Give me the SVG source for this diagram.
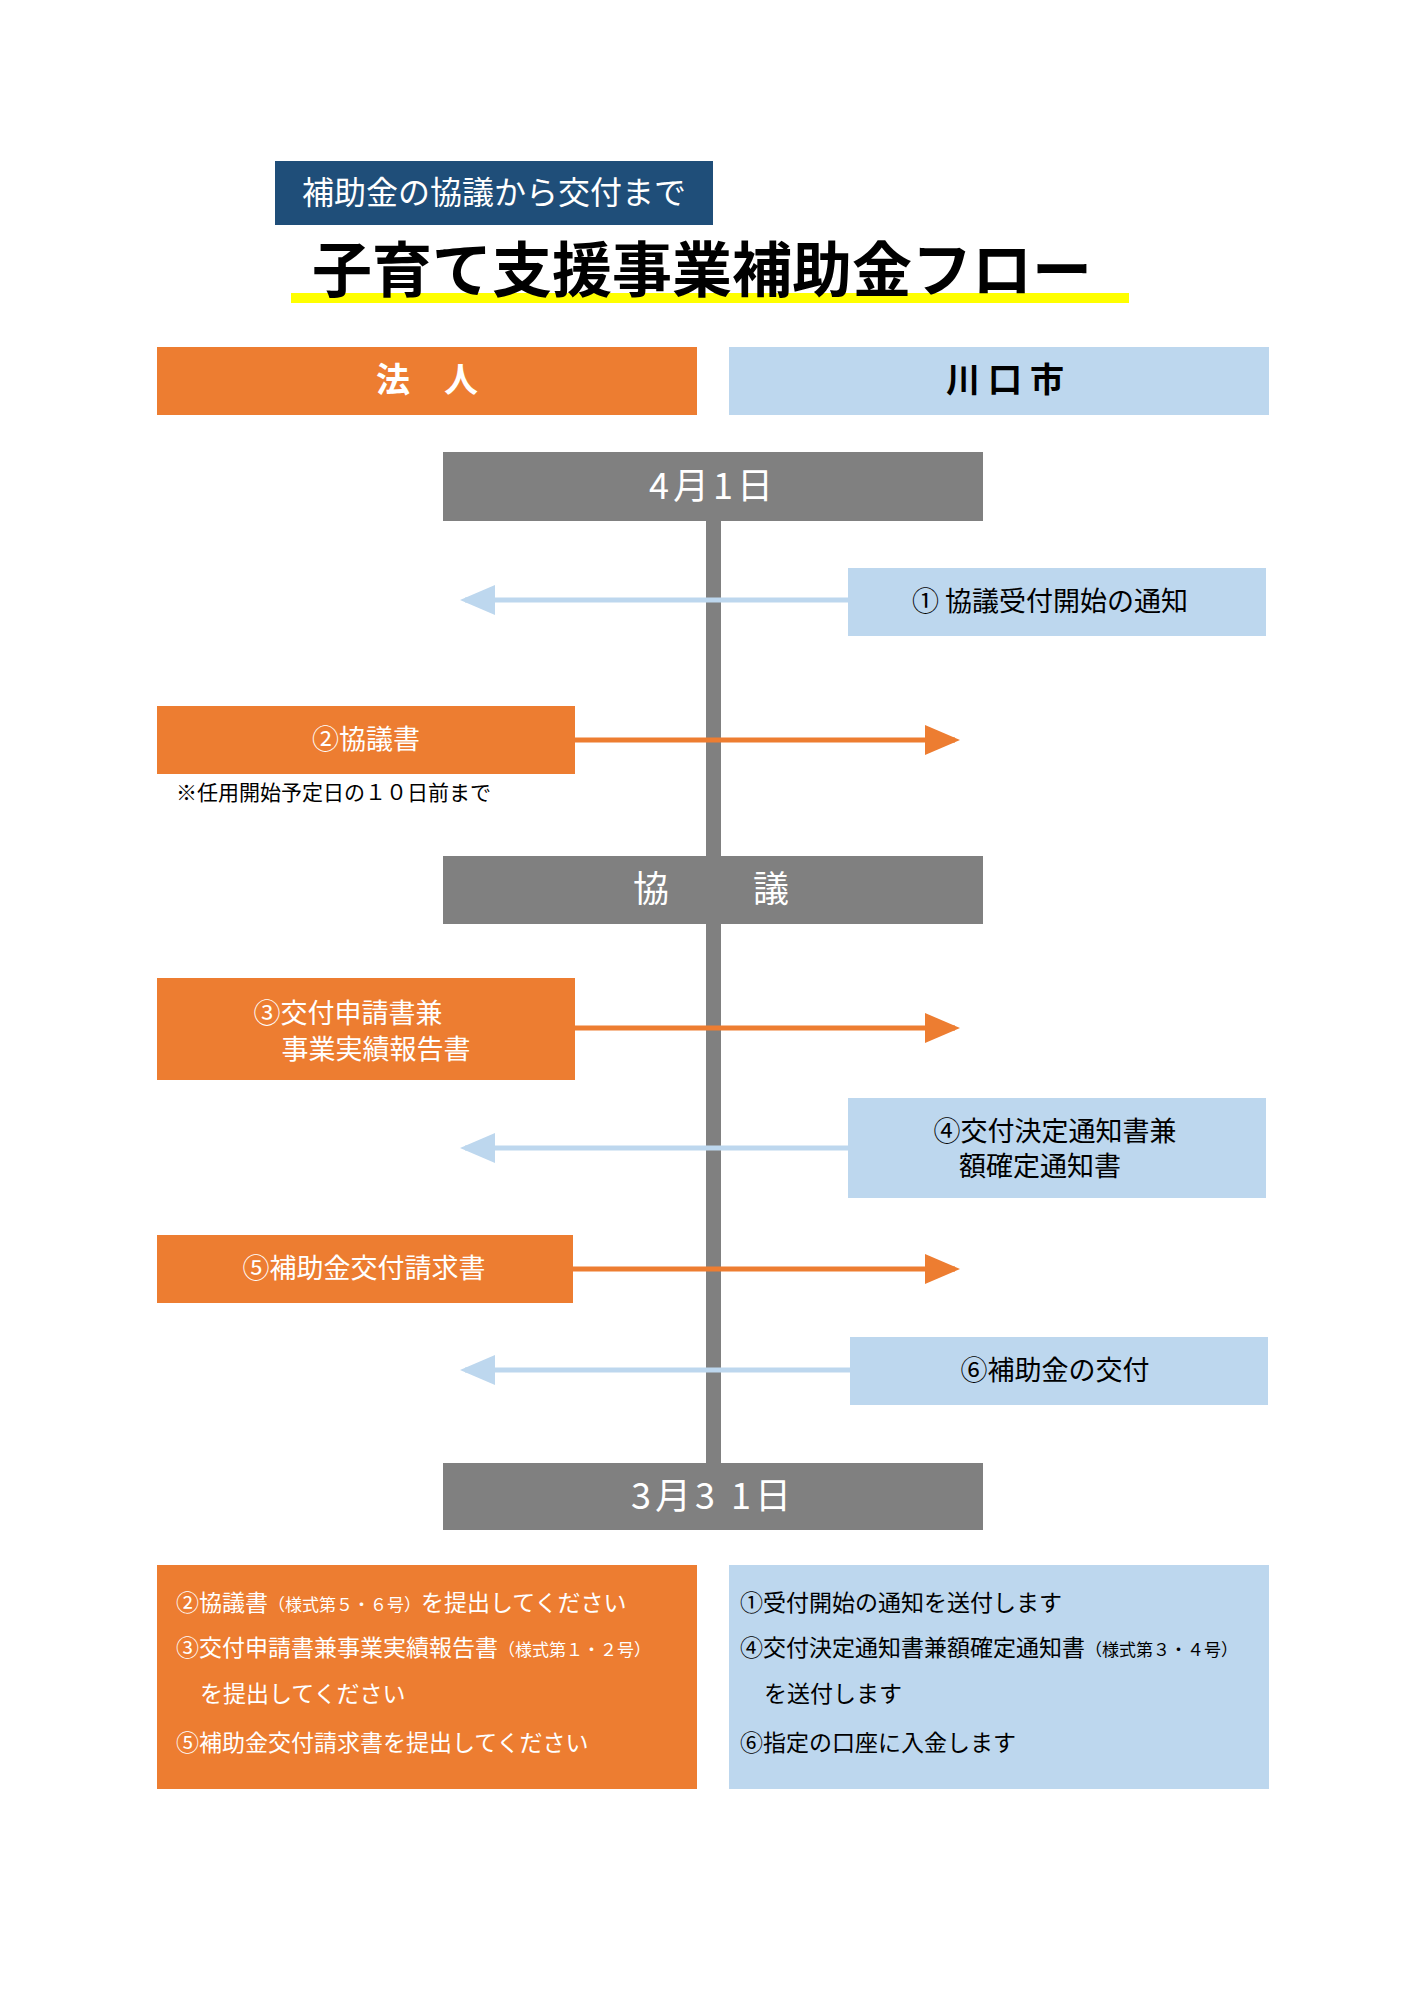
<svg xmlns="http://www.w3.org/2000/svg" width="1414" height="2000" viewBox="0 0 1414 2000">
<style>
text{font-family:"Noto Sans CJK JP","Noto Sans",sans-serif}
.or{fill:#ED7D31}.bl{fill:#BDD7EE}.gr{fill:#808080}
.wt{fill:#fff;font-size:27px;text-anchor:middle}
.bt{fill:#000;font-size:27px;text-anchor:middle}
.gt{fill:#fff;font-size:36px;text-anchor:middle;letter-spacing:4px}
.sm{font-size:23px}
.tiny{font-size:17px}
</style>
<defs>
<marker id="ao" markerWidth="7" markerHeight="6" refX="6" refY="3" orient="auto" markerUnits="strokeWidth"><path d="M0,0L7,3L0,6Z" fill="#ED7D31"/></marker>
<marker id="ab" markerWidth="7" markerHeight="6" refX="6" refY="3" orient="auto" markerUnits="strokeWidth"><path d="M0,0L7,3L0,6Z" fill="#BDD7EE"/></marker>
</defs>
<rect width="1414" height="2000" fill="#fff"/>
<g id="subtitle"><rect x="275" y="161" width="438" height="64" fill="#1F4E79"/><text x="494" y="204" fill="#fff" font-size="32" text-anchor="middle">補助金の協議から交付まで</text></g>
<g id="title"><rect x="291" y="293" width="838" height="10" fill="#FFFF00"/><text x="702" y="292" font-size="60" font-weight="bold" text-anchor="middle" fill="#000">子育て支援事業補助金フロー</text></g>
<g id="houjin"><rect class="or" x="157" y="347" width="540" height="68"/><text class="wt" x="427" y="392" font-size="34" font-weight="bold" style="font-size:34px">法　人</text></g>
<g id="city"><rect class="bl" x="729" y="347" width="540" height="68"/><text class="bt" x="1009" y="392" font-weight="bold" style="font-size:34px;letter-spacing:8px">川口市</text></g>
<g id="connectors">
<rect x="706" y="521" width="15" height="942" fill="#808080"/>
<line x1="848" y1="600" x2="465" y2="600" stroke="#BDD7EE" stroke-width="5" marker-end="url(#ab)"/>
<line x1="575" y1="740" x2="955" y2="740" stroke="#ED7D31" stroke-width="5" marker-end="url(#ao)"/>
<line x1="575" y1="1028" x2="955" y2="1028" stroke="#ED7D31" stroke-width="5" marker-end="url(#ao)"/>
<line x1="848" y1="1148" x2="465" y2="1148" stroke="#BDD7EE" stroke-width="5" marker-end="url(#ab)"/>
<line x1="573" y1="1269" x2="955" y2="1269" stroke="#ED7D31" stroke-width="5" marker-end="url(#ao)"/>
<line x1="850" y1="1370" x2="465" y2="1370" stroke="#BDD7EE" stroke-width="5" marker-end="url(#ab)"/>
</g>
<g id="apr1"><rect class="gr" x="443" y="452" width="540" height="69"/><text class="gt" x="713" y="499">4月1日</text></g>
<g id="n1"><rect class="bl" x="848" y="568" width="418" height="68"/><text class="bt" x="1050" y="611">①  協議受付開始の通知</text></g>
<g id="n2"><rect class="or" x="157" y="706" width="418" height="68"/><text class="wt" x="366" y="749">②協議書</text><text x="176" y="800" font-size="21" fill="#000">※任用開始予定日の１０日前まで</text></g>
<g id="kyogi"><rect class="gr" x="443" y="856" width="540" height="68"/><text class="gt" x="713" y="902">協　　議</text></g>
<g id="n3"><rect class="or" x="157" y="978" width="418" height="102"/><text class="wt" x="348" y="1023">③交付申請書兼</text><text class="wt" x="376" y="1059">事業実績報告書</text></g>
<g id="n4"><rect class="bl" x="848" y="1098" width="418" height="100"/><text class="bt" x="1055" y="1141">④交付決定通知書兼</text><text class="bt" x="1040" y="1176">額確定通知書</text></g>
<g id="n5"><rect class="or" x="157" y="1235" width="416" height="68"/><text class="wt" x="364" y="1278">⑤補助金交付請求書</text></g>
<g id="n6"><rect class="bl" x="850" y="1337" width="418" height="68"/><text class="bt" x="1055" y="1380">⑥補助金の交付</text></g>
<g id="mar31"><rect class="gr" x="443" y="1463" width="540" height="67"/><text class="gt" x="713" y="1509">3月3 1日</text></g>
<g id="noteL"><rect class="or" x="157" y="1565" width="540" height="224"/>
<text x="176" y="1611" fill="#fff" class="sm">②協議書<tspan class="tiny">（様式第５・６号）</tspan>を提出してください</text>
<text x="176" y="1656" fill="#fff" class="sm">③交付申請書兼事業実績報告書<tspan class="tiny">（様式第１・２号）</tspan></text>
<text x="200" y="1702" fill="#fff" class="sm">を提出してください</text>
<text x="176" y="1751" fill="#fff" class="sm">⑤補助金交付請求書を提出してください</text></g>
<g id="noteR"><rect class="bl" x="729" y="1565" width="540" height="224"/>
<text x="740" y="1611" fill="#000" class="sm">①受付開始の通知を送付します</text>
<text x="740" y="1656" fill="#000" class="sm">④交付決定通知書兼額確定通知書<tspan class="tiny">（様式第３・４号）</tspan></text>
<text x="764" y="1702" fill="#000" class="sm">を送付します</text>
<text x="740" y="1751" fill="#000" class="sm">⑥指定の口座に入金します</text></g>
</svg>
